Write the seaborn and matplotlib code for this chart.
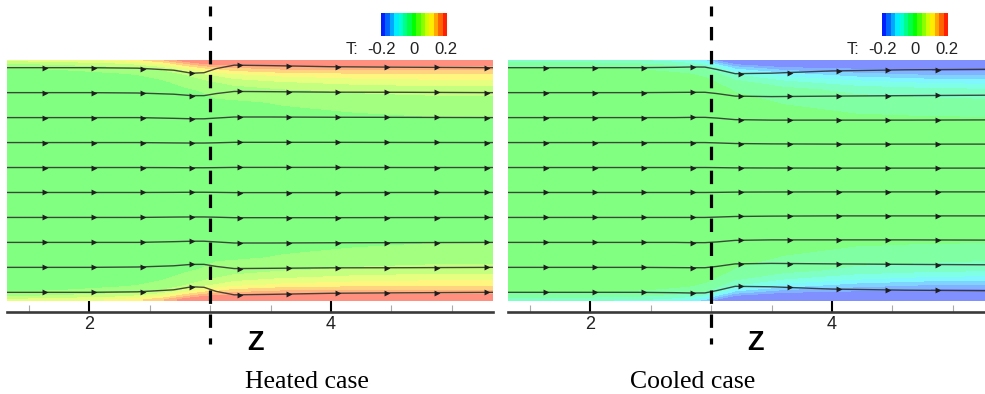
import numpy as np
import pandas as pd
import matplotlib
matplotlib.use("Agg")
import matplotlib.pyplot as plt
from matplotlib.colors import LinearSegmentedColormap, ListedColormap, BoundaryNorm
from matplotlib.lines import Line2D
from matplotlib.ticker import MultipleLocator
from matplotlib.transforms import blended_transform_factory
import seaborn as sns

# ---------------- data ----------------
z_heat_start = 3.0
z_range = (1.322, 5.339)

# temperature field: axial stations and distance from the wall (channel half-height = 1)
field_z = [1.32, 1.8, 2.3, 2.6, 2.8, 2.95, 3.05, 3.2, 3.6, 4.2, 4.8, 5.35]
field_d = [0.0, 0.03, 0.07, 0.12, 0.18, 0.25, 0.35, 0.5, 1.0]

T_heated = [
    [0.07, 0.08, 0.10, 0.14, 0.19, 0.21, 0.21, 0.21, 0.21, 0.21, 0.21, 0.21],
    [0.035, 0.045, 0.06, 0.09, 0.14, 0.17, 0.18, 0.18, 0.185, 0.185, 0.185, 0.185],
    [0.012, 0.015, 0.025, 0.045, 0.08, 0.11, 0.12, 0.135, 0.15, 0.15, 0.15, 0.15],
    [0.005, 0.006, 0.01, 0.02, 0.04, 0.06, 0.07, 0.085, 0.10, 0.11, 0.115, 0.115],
    [0.0, 0.0, 0.005, 0.01, 0.02, 0.03, 0.04, 0.05, 0.065, 0.075, 0.08, 0.08],
    [0.0, 0.0, 0.0, 0.005, 0.01, 0.015, 0.02, 0.025, 0.035, 0.045, 0.05, 0.05],
    [0.0, 0.0, 0.0, 0.0, 0.005, 0.007, 0.01, 0.01, 0.015, 0.02, 0.025, 0.025],
    [0.0, 0.0, 0.0, 0.0, 0.0, 0.0, 0.0, 0.0, 0.005, 0.008, 0.01, 0.01],
    [0.0, 0.0, 0.0, 0.0, 0.0, 0.0, 0.0, 0.0, 0.0, 0.0, 0.0, 0.0],
]

T_cooled = [
    [-0.06, -0.065, -0.07, -0.08, -0.10, -0.13, -0.19, -0.21, -0.21, -0.21, -0.21, -0.21],
    [-0.03, -0.035, -0.04, -0.05, -0.065, -0.085, -0.14, -0.19, -0.20, -0.20, -0.20, -0.20],
    [-0.01, -0.012, -0.015, -0.02, -0.03, -0.04, -0.07, -0.13, -0.17, -0.18, -0.19, -0.19],
    [-0.004, -0.005, -0.006, -0.008, -0.012, -0.018, -0.035, -0.07, -0.11, -0.14, -0.155, -0.16],
    [0.0, 0.0, 0.0, -0.004, -0.006, -0.008, -0.015, -0.035, -0.065, -0.09, -0.105, -0.11],
    [0.0, 0.0, 0.0, 0.0, 0.0, -0.004, -0.008, -0.015, -0.03, -0.05, -0.06, -0.065],
    [0.0, 0.0, 0.0, 0.0, 0.0, 0.0, -0.005, -0.008, -0.015, -0.025, -0.03, -0.035],
    [0.0, 0.0, 0.0, 0.0, 0.0, 0.0, 0.0, -0.003, -0.005, -0.008, -0.01, -0.01],
    [0.0, 0.0, 0.0, 0.0, 0.0, 0.0, 0.0, 0.0, 0.0, 0.0, 0.0, 0.0],
]

# streamlines: distance of each upper streamline from the axis, and its
# displacement towards the nearest wall along the channel (lower half mirrored)
stream_z = [1.32, 2.0, 2.4, 2.7, 2.85, 2.95, 3.05, 3.2, 3.5, 4.0, 4.6, 5.35]
stream_y0 = [0.936, 0.728, 0.52, 0.312, 0.104]

shift_heated = [
    [0, 0, -0.004, -0.021, -0.046, -0.042, -0.008, 0.021, 0.017, 0.008, 0.004, 0.0],
    [0, 0, -0.003, -0.013, -0.025, -0.025, -0.008, 0.010, 0.008, 0.004, 0.003, 0.0],
    [0, 0, 0.0, -0.006, -0.010, -0.010, -0.004, 0.005, 0.005, 0.003, 0.002, 0.0],
    [0, 0, 0.0, -0.003, -0.004, -0.004, -0.002, 0.002, 0.002, 0.002, 0.001, 0.0],
    [0, 0, 0.0, -0.001, -0.002, -0.002, -0.001, 0.001, 0.001, 0.001, 0.0, 0.0],
]
shift_cooled = [
    [0, 0, 0, 0.003, 0.006, 0.005, -0.015, -0.050, -0.046, -0.027, -0.018, -0.013],
    [0, 0, 0, 0.002, 0.003, 0.003, -0.008, -0.029, -0.033, -0.029, -0.025, -0.021],
    [0, 0, 0, 0.0, 0.002, 0.002, -0.004, -0.017, -0.021, -0.021, -0.021, -0.019],
    [0, 0, 0, 0.0, 0.0, 0.0, -0.003, -0.008, -0.011, -0.013, -0.013, -0.013],
    [0, 0, 0, 0.0, 0.0, 0.0, -0.001, -0.003, -0.004, -0.005, -0.005, -0.005],
]
arrow_z = [1.64, 2.04, 2.45, 2.85, 3.25, 3.65, 4.06, 4.46, 4.88, 5.29]

T_levels = (-0.2, 0.2)
T_ticks = ["-0.2", "0", "0.2"]
captions = ["Heated case", "Cooled case"]

# ---------------- style ----------------
sns.set_theme(style="white")
plt.rcParams["font.family"] = ["Liberation Sans", "DejaVu Sans"]

rainbow = LinearSegmentedColormap.from_list(
    "rainbow5", ["#0000ff", "#00ffff", "#00ff00", "#ffff00", "#ff0000"])
n_bands = 15
levels = np.linspace(T_levels[0], T_levels[1], n_bands + 1)
centers = 0.5 * (levels[:-1] + levels[1:])
band_rgb = rainbow((centers - T_levels[0]) / (T_levels[1] - T_levels[0]))[:, :3]
bar_cmap = ListedColormap(band_rgb)
field_cmap = ListedColormap(0.5 * band_rgb + 0.5)
bar_norm = BoundaryNorm(levels, n_bands)

W, H = 985, 394
fig = plt.figure(figsize=(W / 100, H / 100), dpi=100)


def fx(px):
    return px / W


def fy(py):
    return 1 - py / H


def draw_panel(x0, T_table, shifts, caption, caption_x):
    ax = fig.add_axes([fx(x0), fy(312), fx(486), (312 - 60) / H])
    ax.set_facecolor("white")

    # mirrored grid over the full channel
    d = np.array(field_d)
    T = np.array(T_table)
    y = np.concatenate([-1 + d[:-1], [0.0], (1 - d[:-1])[::-1]])
    Tfull = np.vstack([T[:-1], T[-1:], T[:-1][::-1]])
    Tfull = np.clip(Tfull, levels[0] + 1e-4, levels[-1] - 1e-4)
    cs = ax.contourf(field_z, y, Tfull, levels=levels, cmap=field_cmap,
                     norm=bar_norm, zorder=1)
    cs.set_edgecolor("face")
    cs.set_linewidth(0.4)

    rows, arrows = [], []
    for k, (y0, sh) in enumerate(zip(stream_y0, shifts)):
        for sign in (1, -1):
            yl = sign * (y0 + np.array(sh))
            for zz, yy in zip(stream_z, yl):
                rows.append({"z": zz, "y": yy, "line": f"{k}{sign}"})
            for za in arrow_z:
                arrows.append({"z": za, "y": np.interp(za, stream_z, yl)})
    df = pd.DataFrame(rows)
    da = pd.DataFrame(arrows)
    sns.lineplot(data=df, x="z", y="y", units="line", estimator=None,
                 sort=False, color="#2a2a2a", lw=1.0, alpha=0.85,
                 legend=False, ax=ax, zorder=3)
    sns.scatterplot(data=da, x="z", y="y", marker=">", s=18,
                    color="#1e1e1e", linewidth=0, legend=False, ax=ax,
                    zorder=4)

    ax.set_xlim(*z_range)
    ax.set_ylim(-1.1, 1.0)
    ax.set_xlabel("")
    ax.set_ylabel("")
    ax.set_yticks([])
    for s in ("top", "left", "right"):
        ax.spines[s].set_visible(False)
    ax.spines["bottom"].set_color("#3a3a3a")
    ax.spines["bottom"].set_linewidth(1.9)
    ax.xaxis.set_major_locator(MultipleLocator(2))
    ax.xaxis.set_minor_locator(MultipleLocator(0.5))
    ax.tick_params(axis="x", which="major", direction="in", length=8.5,
                   width=1.5, color="black", labelsize=13, pad=3,
                   bottom=True, labelcolor="#222222")
    ax.tick_params(axis="x", which="minor", direction="in", length=5,
                   width=0.8, color="#aaaaaa", bottom=True)

    # heating/cooling section start
    tr = blended_transform_factory(ax.transData, fig.transFigure)
    fig.add_artist(Line2D([z_heat_start, z_heat_start], [fy(6), fy(344)],
                          transform=tr, color="black", lw=2.3,
                          linestyle=(1.1, (4.2, 3.3)), zorder=10))

    # colour legend
    cax = fig.add_axes([fx(x0 + 374), fy(36), fx(66), 23 / H])
    sm = plt.cm.ScalarMappable(norm=bar_norm, cmap=bar_cmap)
    cb = fig.colorbar(sm, cax=cax, orientation="horizontal")
    cb.outline.set_visible(False)
    cax.set_axis_off()
    fig.text(fx(x0 + 345), fy(49), "T:", ha="center", va="center",
             fontsize=12, color="#222222")
    for lab, px in zip(T_ticks, (375, 407, 439)):
        fig.text(fx(x0 + px), fy(49), lab, ha="center", va="center",
                 fontsize=12, color="#222222")

    fig.text(fx(x0 + 248), fy(343), "Z", ha="center", va="center",
             fontsize=19.5, fontweight="bold", color="black")
    fig.text(fx(caption_x), fy(388), caption, ha="center", va="baseline",
             fontsize=18.5, family=["Liberation Serif", "DejaVu Serif"],
             color="black")
    return ax


draw_panel(7, T_heated, shift_heated, captions[0], 307)
draw_panel(508, T_cooled, shift_cooled, captions[1], 693)

fig.savefig("out.png", dpi=100, facecolor="white")
